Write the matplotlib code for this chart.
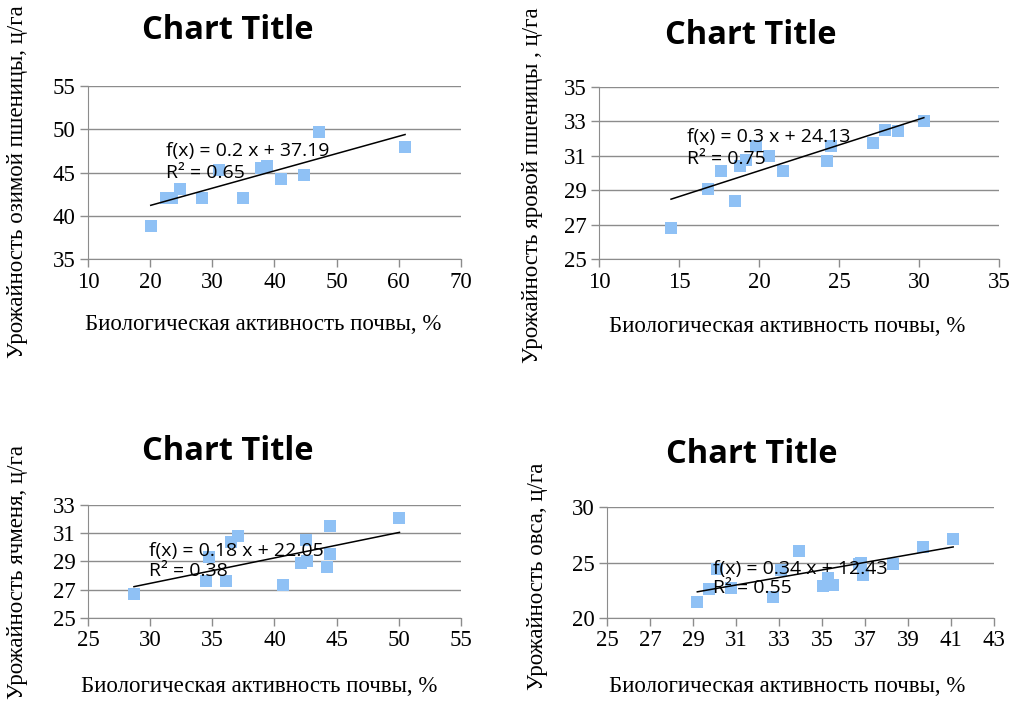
import matplotlib

matplotlib.use("Agg")
import matplotlib.pyplot as plt
import numpy as np

# winter wheat
x1 = [20.1, 22.5, 23.5, 24.8, 28.3, 31.0, 35.0, 37.9, 38.8, 41.0, 44.7, 47.1, 61.0]
y1 = [38.8, 42.0, 42.0, 43.1, 42.0, 45.3, 42.0, 45.5, 45.7, 44.2, 44.7, 49.7, 48.0]
# spring wheat
x2 = [14.5, 16.8, 17.6, 18.5, 18.8, 19.2, 19.8, 20.6, 21.5, 24.25, 24.5, 27.1, 27.9, 28.7, 30.3]
y2 = [26.8, 29.05, 30.1, 28.35, 30.4, 30.75, 31.6, 31.0, 30.1, 30.7, 31.6, 31.75, 32.5, 32.45, 33.05]
# barley
x3 = [28.7, 34.5, 34.7, 36.1, 36.5, 37.1, 40.7, 42.1, 42.5, 42.6, 44.2, 44.5, 44.5, 50.05]
y3 = [26.7, 27.6, 29.3, 27.6, 30.35, 30.8, 27.3, 28.9, 30.5, 29.0, 28.6, 29.5, 31.5, 32.1]
# oats
x4 = [29.2, 29.75, 30.1, 30.75, 32.7, 33.1, 33.95, 35.05, 35.3, 35.5, 36.7, 36.8, 36.9, 38.3, 39.7, 41.1]
y4 = [21.4, 22.6, 24.4, 22.7, 21.9, 24.3, 26.05, 22.85, 23.6, 22.95, 24.9, 25.0, 23.9, 24.9, 26.4, 27.1]

slopes = [0.2, 0.3, 0.18, 0.34]
intercepts = [37.19, 24.13, 22.05, 12.43]
r2 = ["0.65", "0.75", "0.38", "0.55"]

ylabels = [
    "Урожайность озимой пшеницы, ц/га",
    "Урожайность яровой пшеницы , ц/га",
    "Урожайность ячменя, ц/га",
    "Урожайность овса, ц/га",
]
xlabel = "Биологическая активность почвы, %"

xlims = [(10, 70), (10, 35), (25, 55), (25, 43)]
xsteps = [10, 5, 5, 2]
ylims = [(35, 55), (25, 35), (25, 33), (20, 30)]
ysteps = [5, 2, 2, 5]

GRID = "#8c8c8c"
MARK = "#8fc1f5"

fig = plt.figure(figsize=(10.11, 7.02), dpi=100)
rects = [
    (0.087, 0.631, 0.369, 0.2465),
    (0.5925, 0.631, 0.3957, 0.245),
    (0.087, 0.1197, 0.369, 0.161),
    (0.6004, 0.1197, 0.3828, 0.158),
]
# per-panel placement (axes fraction)
title_pos = [(0.375, 1.32), (0.38, 1.30), (0.375, 1.47), (0.375, 1.47)]
eq_pos = [(0.209, 0.625, 0.495), (0.22, 0.71, 0.58), (0.164, 0.59, 0.42), (0.274, 0.44, 0.27)]
ylab_pos = [(-0.188, 0.45), (-0.167, 0.43), (-0.188, 0.41), (-0.18, 0.38)]
xlab_pos = [(0.47, -0.38), (0.47, -0.395), (0.46, -0.61), (0.465, -0.62)]

data = [(x1, y1), (x2, y2), (x3, y3), (x4, y4)]
serif = "Liberation Serif"
FS = 16.5

for i, (xs, ys) in enumerate(data):
    ax = fig.add_axes(rects[i])
    ax.scatter(xs, ys, marker="s", s=70, color=MARK, zorder=3, linewidths=0)
    lx = np.array([min(xs), max(xs)])
    ax.plot(lx, slopes[i] * lx + intercepts[i], color="black", lw=1.1, zorder=4)

    ax.set_xlim(*xlims[i])
    ax.set_ylim(*ylims[i])
    ax.set_xticks(np.arange(xlims[i][0], xlims[i][1] + 0.1, xsteps[i]))
    ax.set_yticks(np.arange(ylims[i][0], ylims[i][1] + 0.1, ysteps[i]))
    ax.yaxis.grid(True, color=GRID, lw=1.0)
    ax.set_axisbelow(True)
    for s in ("top", "right"):
        ax.spines[s].set_visible(False)
    for s in ("left", "bottom"):
        ax.spines[s].set_color(GRID)
    ax.tick_params(axis="both", direction="out", color=GRID, length=6, width=1,
                   labelsize=FS, pad=3)
    for lab in ax.get_xticklabels() + ax.get_yticklabels():
        lab.set_fontfamily(serif)

    ax.set_xlabel(xlabel, fontsize=FS, fontfamily=serif)
    ax.xaxis.set_label_coords(*xlab_pos[i])
    ax.xaxis.label.set_va("center")
    ax.set_ylabel(ylabels[i], fontsize=FS, fontfamily=serif)
    ax.yaxis.set_label_coords(*ylab_pos[i])
    ax.yaxis.label.set_va("center")

    tx, ty = title_pos[i]
    ax.text(tx, ty, "Chart Title", transform=ax.transAxes, ha="center", va="center",
            fontsize=23.5, fontweight="bold", fontfamily="Open Sans")

    ex, ey1, ey2 = eq_pos[i]
    ax.text(ex, ey1, f"f(x) = {slopes[i]} x + {intercepts[i]}", transform=ax.transAxes,
            ha="left", va="center", fontsize=14, fontfamily="Open Sans", zorder=5)
    ax.text(ex, ey2, f"R² = {r2[i]}", transform=ax.transAxes,
            ha="left", va="center", fontsize=14, fontfamily="Open Sans", zorder=5)

fig.savefig("out.png", dpi=100)
